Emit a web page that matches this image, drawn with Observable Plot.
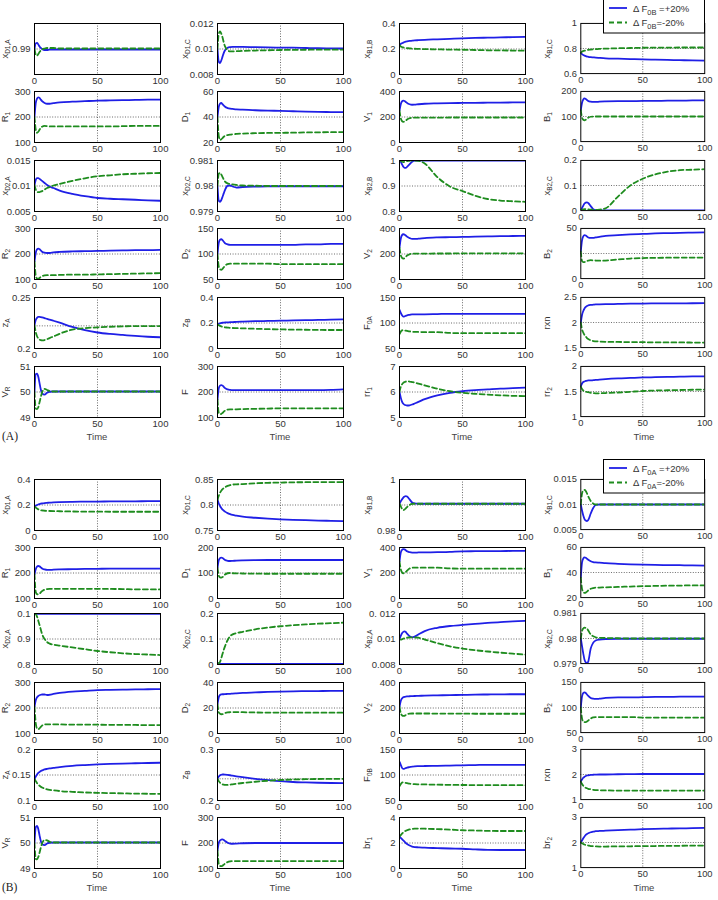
<!DOCTYPE html>
<html><head><meta charset="utf-8">
<script src="https://cdn.jsdelivr.net/npm/d3@7"></script>
<script src="https://cdn.jsdelivr.net/npm/@observablehq/plot@0.6"></script>
<style>
body{margin:0;background:#fff;}
#wrap{position:relative;width:718px;height:900px;overflow:hidden;font-family:"Liberation Sans",Arial,sans-serif;}
.pnl{position:absolute;}
.ylab{position:absolute;transform:translate(-50%,-50%) rotate(-90deg);font-size:9.5px;color:#333;white-space:nowrap;line-height:8px;}
.ylab sub{font-size:6.5px;vertical-align:-2px;line-height:0;}
.tlab{position:absolute;transform:translate(-50%,-50%);font-size:9.5px;color:#444;}
.plab{position:absolute;transform:translate(0,-50%);font-family:"Liberation Serif","Times New Roman",serif;font-size:11.5px;color:#222;}
.leg{position:absolute;z-index:5;}
</style>
</head><body><div id="wrap"></div>
<script>
const T = [0,1,2,3,4,5,6,8,10,12,15,20,30,40,50,60,70,80,90,100];
const xTicks = [0,50,100];

// ---- Group A : ΔF0B = +20% (up) / -20% (dn)
const A_xD1A_up=[0.9900,0.9911,0.9912,0.9909,0.9905,0.9902,0.9900,0.9898,0.9898,0.9899,0.9899,0.9899,0.9899,0.9899,0.9899,0.9899,0.9899,0.9899,0.9899,0.9899];
const A_xD1A_dn=[0.9900,0.9889,0.9887,0.9890,0.9894,0.9897,0.9899,0.9901,0.9902,0.9902,0.9902,0.9901,0.9901,0.9901,0.9901,0.9901,0.9901,0.9901,0.9901,0.9901];
const A_xD1C_up=[0.0100,0.0090,0.0089,0.0091,0.0094,0.0097,0.0099,0.0101,0.01015,0.01017,0.01016,0.01017,0.01014,0.01012,0.01011,0.0101,0.01008,0.01006,0.01005,0.01004];
const A_xD1C_dn=[0.0100,0.0112,0.01138,0.0112,0.0109,0.0105,0.0102,0.0099,0.00982,0.00982,0.00983,0.00985,0.00988,0.0099,0.00992,0.00993,0.00994,0.00995,0.00995,0.00995];
const A_xB1B_up=[0.23,0.24,0.245,0.25,0.255,0.258,0.26,0.263,0.265,0.267,0.269,0.272,0.276,0.28,0.284,0.287,0.289,0.291,0.293,0.295];
const A_xB1B_dn=[0.23,0.22,0.215,0.212,0.21,0.208,0.207,0.205,0.203,0.202,0.201,0.199,0.197,0.195,0.194,0.192,0.19,0.189,0.188,0.187];
const A_xB1C_up=[0.765,0.755,0.748,0.743,0.739,0.736,0.734,0.731,0.729,0.727,0.725,0.722,0.719,0.716,0.713,0.711,0.709,0.707,0.705,0.703];
const A_xB1C_dn=[0.765,0.775,0.78,0.783,0.785,0.787,0.789,0.791,0.793,0.795,0.797,0.799,0.802,0.804,0.806,0.807,0.807,0.808,0.808,0.808];
const A_R1_up=[200,255,272,277,275,268,262,255,252,252,254,257,260,262,264,265,266,267,268,268];
const A_R1_dn=[200,150,138,142,150,157,162,165,164,163,163,163,163,163,163,163,164,165,165,165];
const A_D1_up=[40,48,50.5,51,50,49,48,47,46.5,46.3,46,45.8,45.3,45,44.8,44.5,44.2,44,43.9,43.8];
const A_D1_dn=[40,25,22,22.5,23.5,24.5,25.2,25.8,26.2,26.5,26.7,27,27.3,27.5,27.6,27.7,27.9,28,28.1,28.2];
const A_V1_up=[250,300,322,328,325,318,310,300,296,297,300,304,307,309,310,311,312,313,314,315];
const A_V1_dn=[250,190,168,162,165,172,180,190,194,195,195,195,195,196,196,196,196,196,196,196];
const A_B1_up=[125,155,168,172,170,166,162,159,158,158,159,160,161,161,162,162,163,163,164,164];
const A_B1_dn=[125,95,87,85,87,91,95,99,100,100,100,100,100,100,100,100,100,100,100,100];
const A_xD2A_up=[0.0102,0.0112,0.01155,0.01155,0.0114,0.0112,0.0110,0.0106,0.0102,0.0099,0.0096,0.0091,0.00845,0.0080,0.00765,0.0075,0.0074,0.0073,0.0072,0.0071];
const A_xD2A_dn=[0.0102,0.0093,0.0089,0.00878,0.0088,0.0089,0.0090,0.0093,0.0096,0.0098,0.0101,0.0104,0.0110,0.0115,0.0119,0.0121,0.0123,0.0124,0.0125,0.01255];
const A_xD2C_up=[0.98,0.97942,0.97938,0.97945,0.97958,0.97972,0.97985,0.98001,0.98002,0.97998,0.97994,0.97996,0.97998,0.97999,0.97999,0.97999,0.97999,0.97999,0.97999,0.97999];
const A_xD2C_dn=[0.98,0.98048,0.98052,0.98045,0.98035,0.98025,0.98017,0.9801,0.98008,0.98006,0.98004,0.98002,0.98001,0.98,0.98,0.98,0.98,0.98,0.98,0.98];
const A_xB2B_up=[1,0.995,0.985,0.976,0.971,0.971,0.975,0.985,0.995,1,1,1,1,1,1,1,1,1,1,1];
const A_xB2B_dn=[1,0.998,0.995,0.994,0.995,0.997,0.998,0.999,1,1,0.999,0.988,0.935,0.898,0.88,0.862,0.849,0.843,0.84,0.838];
const A_xB2C_up=[0,0.01,0.02,0.028,0.032,0.033,0.03,0.018,0.006,0.002,0.001,0.001,0.001,0.001,0.001,0.001,0.001,0.001,0.001,0.001];
const A_xB2C_dn=[0,0.003,0.005,0.006,0.006,0.006,0.005,0.004,0.003,0.003,0.004,0.009,0.056,0.1,0.127,0.144,0.155,0.161,0.163,0.165];
const A_R2_up=[170,205,218,221,219,214,209,205,204,204,206,208,210,211,212,213,214,215,215,216];
const A_R2_dn=[170,115,104,103,106,110,113,116,117,117,117,118,119,119,120,121,122,123,124,125];
const A_D2_up=[100,122,128,129,127,124,121,119,118,118,118,118,118,118,118,118,119,119,120,120];
const A_D2_dn=[100,75,70,69,71,74,77,80,81,81,81,81,81,81,80,80,80,80,80,80];
const A_V2_up=[250,320,348,355,352,345,336,325,318,318,320,325,330,332,334,336,338,340,341,342];
const A_V2_dn=[250,190,170,164,168,178,188,198,202,203,203,203,204,204,205,205,205,205,205,205];
const A_B2_up=[27,38,42,43.3,43,42,41,40.5,40.5,41,41.5,42.5,43.3,44,44.5,45,45.3,45.6,45.8,46];
const A_B2_dn=[27,17.5,16.5,16.5,17,17.5,18,18.3,18.2,18,17.8,18,19,20,20.5,20.7,20.8,21,21,21];
const A_zA_up=[0.223,0.228,0.23,0.231,0.231,0.2308,0.2305,0.2298,0.229,0.2283,0.2272,0.2253,0.2212,0.218,0.2157,0.2143,0.2133,0.2123,0.2115,0.211];
const A_zA_dn=[0.223,0.216,0.212,0.21,0.2088,0.2082,0.208,0.2083,0.2092,0.2102,0.2118,0.2145,0.2185,0.22,0.2207,0.2213,0.2217,0.222,0.222,0.222];
const A_zB_up=[0.19,0.195,0.198,0.2,0.202,0.203,0.204,0.205,0.206,0.207,0.209,0.211,0.214,0.216,0.218,0.22,0.222,0.224,0.226,0.228];
const A_zB_dn=[0.19,0.182,0.177,0.173,0.17,0.168,0.166,0.164,0.162,0.161,0.16,0.158,0.155,0.152,0.15,0.148,0.147,0.146,0.145,0.145];
const A_F0A_up=[126,120,115,112.5,113,114,115,116,117,117,117,117,117.5,118,118,118,118,118,118,118];
const A_F0A_dn=[78,83,85.5,86,85.5,85,84.5,83.5,83,82.5,82.5,82,82,80.5,80,80,80,80,80,80];
const A_rxn_up=[2,2.15,2.23,2.28,2.31,2.33,2.34,2.35,2.355,2.36,2.362,2.365,2.37,2.375,2.378,2.38,2.382,2.383,2.384,2.385];
const A_rxn_dn=[2,1.86,1.8,1.75,1.72,1.69,1.67,1.645,1.63,1.625,1.62,1.615,1.612,1.61,1.607,1.605,1.603,1.602,1.601,1.6];
const A_VR_up=[50,50.7,50.72,50.6,50.35,50.1,49.95,49.9,49.97,50.01,50.02,50.02,50.02,50.02,50.02,50.02,50.02,50.02,50.02,50.02];
const A_VR_dn=[50,49.35,49.33,49.4,49.6,49.8,49.98,50.12,50.08,50.04,50.02,50.02,50.02,50.02,50.02,50.02,50.02,50.02,50.02,50.02];
const A_F_up=[170,215,225,227,225,220,215,210,208,207,207,207,207,207,207,207,207,207,208,210];
const A_F_dn=[170,118,113,114,118,123,127,131,132,132,132,133,134,135,136,136,136,136,136,136];
const A_rr1_up=[6,5.78,5.62,5.54,5.5,5.48,5.47,5.48,5.51,5.55,5.61,5.72,5.87,5.97,6.03,6.07,6.1,6.13,6.15,6.17];
const A_rr1_dn=[6,6.2,6.3,6.36,6.39,6.41,6.42,6.41,6.39,6.37,6.33,6.26,6.13,6.03,5.97,5.93,5.9,5.87,5.85,5.84];
const A_rr2_up=[1.6,1.66,1.69,1.7,1.71,1.715,1.72,1.72,1.725,1.73,1.735,1.745,1.76,1.77,1.78,1.785,1.79,1.795,1.8,1.8];
const A_rr2_dn=[1.6,1.55,1.52,1.505,1.495,1.49,1.485,1.475,1.47,1.465,1.465,1.47,1.48,1.495,1.51,1.52,1.525,1.53,1.535,1.54];

// ---- Group B : ΔF0A = +20% (up) / -20% (dn)
const B_xD1A_up=[0.19,0.195,0.2,0.204,0.207,0.21,0.212,0.215,0.217,0.219,0.221,0.223,0.225,0.226,0.227,0.228,0.229,0.229,0.23,0.23];
const B_xD1A_dn=[0.19,0.18,0.172,0.166,0.162,0.159,0.157,0.155,0.154,0.153,0.152,0.151,0.149,0.148,0.148,0.147,0.147,0.147,0.147,0.147];
const B_xD1C_up=[0.81,0.803,0.798,0.794,0.791,0.789,0.787,0.784,0.782,0.7805,0.779,0.777,0.775,0.7733,0.772,0.771,0.7702,0.7695,0.769,0.7685];
const B_xD1C_dn=[0.81,0.818,0.824,0.828,0.831,0.833,0.835,0.8375,0.839,0.84,0.8405,0.841,0.8425,0.8435,0.844,0.8445,0.8447,0.845,0.845,0.845];
const B_xB1B_up=[0.9905,0.9915,0.9922,0.9929,0.9933,0.9935,0.9933,0.9922,0.991,0.9906,0.9905,0.9905,0.9905,0.9905,0.9905,0.9905,0.9905,0.9905,0.9905,0.9905];
const B_xB1B_dn=[0.9905,0.9895,0.9885,0.988,0.9882,0.9887,0.9892,0.99,0.9904,0.9905,0.9905,0.9905,0.9905,0.9905,0.9905,0.9905,0.9905,0.9905,0.9905,0.9905];
const B_xB1C_up=[0.01,0.0088,0.0078,0.0071,0.0068,0.0067,0.0069,0.0082,0.0093,0.0099,0.01,0.01,0.01,0.01,0.01,0.01,0.01,0.01,0.01,0.01];
const B_xB1C_dn=[0.01,0.0122,0.0128,0.0129,0.0127,0.0122,0.0116,0.0107,0.0102,0.01,0.01,0.01,0.01,0.01,0.01,0.01,0.01,0.01,0.01,0.01];
const B_R1_up=[195,215,225,227.5,226,222,218,214,212,212,213,214,215,216,216.5,217,217,217,217,217];
const B_R1_dn=[195,125,117,116,119,124,129,135,137,138,138,138,138,138,138,137.5,137,136,136,135.5];
const B_D1_up=[120,150,158,160.5,159,155,151,148,147,147.5,148.5,149.5,150.5,151,151,151,151,151,151,151];
const B_D1_dn=[120,90,83,82,84,89,94,99,100,99,98.5,98,97.5,97,97,97,97,97,97,97];
const B_V1_up=[290,360,382,387,385,378,370,363,360,360,361,362,363,366,370,371,372,372,373,373];
const B_V1_dn=[290,230,205,198,200,208,218,235,241,242,242,242,242,236,234,234,234,234,234,234];
const B_B1_up=[36,48,51.2,52,51.8,51,50.2,49,48.3,48,47.8,47.4,46.9,46.5,46.2,46,45.9,45.8,45.7,45.5];
const B_B1_dn=[36,27,24.5,23.8,24,24.8,25.7,27,27.6,27.9,28,28.2,28.5,28.8,29.1,29.3,29.5,29.6,29.7,29.7];
const B_xD2A_up=[0.999,0.999,0.999,0.999,0.999,0.999,0.999,0.999,0.999,0.999,0.999,0.999,0.999,0.999,0.999,0.999,0.999,0.999,0.999,0.999];
const B_xD2A_dn=[1,0.997,0.988,0.972,0.955,0.937,0.92,0.9,0.888,0.882,0.878,0.874,0.867,0.86,0.853,0.848,0.844,0.841,0.839,0.837];
const B_xD2C_up=[0.005,0.004,0.003,0.002,0.002,0.002,0.002,0.002,0.002,0.002,0.002,0.002,0.002,0.002,0.002,0.002,0.002,0.002,0.002,0.002];
const B_xD2C_dn=[0.005,0.005,0.01,0.025,0.042,0.058,0.072,0.095,0.111,0.118,0.123,0.128,0.138,0.145,0.15,0.154,0.157,0.16,0.162,0.164];
const B_xB2A_up=[0.01,0.01025,0.01045,0.01056,0.0106,0.01055,0.01042,0.01022,0.01013,0.01018,0.01035,0.01062,0.01088,0.01102,0.0111,0.01118,0.01126,0.01133,0.01138,0.01143];
const B_xB2A_dn=[0.01,0.00995,0.00998,0.01003,0.01006,0.01008,0.0101,0.01012,0.01013,0.01012,0.0101,0.00996,0.00968,0.00942,0.00925,0.00912,0.00902,0.00893,0.00885,0.00878];
const B_xB2C_up=[0.98,0.9797,0.9794,0.97915,0.97905,0.97902,0.97908,0.9796,0.97983,0.97992,0.97996,0.97998,0.97999,0.97999,0.97999,0.97999,0.97999,0.97999,0.97999,0.97999];
const B_xB2C_dn=[0.98,0.9803,0.9804,0.98043,0.98042,0.9804,0.98032,0.98016,0.98009,0.98005,0.98003,0.98002,0.98001,0.98,0.98,0.98,0.98,0.98,0.98,0.98];
const B_R2_up=[205,230,242,247,250,252,253,253,251,252,255,259,264,267,270,271,272,273,273.5,274];
const B_R2_dn=[205,140,120,117,120,126,131,135,136,136,136,135.5,135,135,134.5,134,134,133.5,133,133];
const B_D2_up=[23,28.5,30.2,30.7,30.8,30.8,30.9,31,31.1,31.3,31.5,31.8,32.2,32.6,32.9,33.1,33.2,33.3,33.4,33.4];
const B_D2_dn=[23,16.5,15.5,15.1,15.2,15.6,16,16.5,16.7,16.8,16.8,16.7,16.5,16.4,16.4,16.3,16.3,16.3,16.3,16.3];
const B_V2_up=[210,255,275,284,288,290,291,292,293,294,295,297,299,301,303,305,306,307,308,308];
const B_V2_dn=[210,160,143,138,139,145,151,156,157,157,157,157,156,156,156,155,155,155,155,155];
const B_B2_up=[100,122,129,130,129,126,123,119,117.5,117,117.5,119,120,120,120.5,121,121,121.5,121.5,121.7];
const B_B2_dn=[100,78,72,71,71,72,74,78,80.5,81,81,81,81,81,80,80,80,80,80,79.6];
const B_zA_up=[0.142,0.147,0.151,0.154,0.156,0.158,0.159,0.161,0.162,0.1628,0.1638,0.1655,0.168,0.1695,0.1707,0.1717,0.1725,0.173,0.1735,0.174];
const B_zA_dn=[0.142,0.138,0.134,0.131,0.129,0.127,0.1255,0.1235,0.122,0.121,0.12,0.1185,0.117,0.1158,0.115,0.1145,0.114,0.1135,0.1132,0.113];
const B_zB_up=[0.243,0.247,0.2495,0.2505,0.251,0.251,0.2508,0.2502,0.2495,0.2487,0.2475,0.2458,0.2425,0.24,0.2378,0.2363,0.2355,0.2348,0.2343,0.234];
const B_zB_dn=[0.243,0.238,0.235,0.233,0.2318,0.231,0.2306,0.2305,0.231,0.2318,0.2328,0.2343,0.2368,0.2388,0.2402,0.2412,0.2418,0.2422,0.2424,0.2425];
const B_F0B_up=[126,120,114,112,112.5,113.5,114.5,115.5,116.5,117,117.3,117.6,118,118.5,119,119.5,120,120,120,120];
const B_F0B_dn=[78,82,85,85.5,85,84.5,84,83,82.5,82,81.7,81.5,81,80.7,80.4,80.3,80.2,80.1,80,80];
const B_rxn_up=[1.72,1.8,1.87,1.91,1.94,1.96,1.97,1.985,1.99,1.995,2,2,2.01,2.015,2.02,2.02,2.02,2.02,2.02,2.02];
const B_rxn_dn=[1.72,1.62,1.55,1.5,1.47,1.45,1.43,1.41,1.39,1.38,1.37,1.365,1.36,1.36,1.36,1.36,1.36,1.36,1.36,1.36];
const B_VR_up=[50,50.62,50.67,50.55,50.3,50.08,49.95,49.92,49.98,50.01,50.02,50.02,50.02,50.02,50.02,50.02,50.02,50.02,50.02,50.02];
const B_VR_dn=[50,49.38,49.36,49.45,49.62,49.82,49.98,50.12,50.1,50.05,50.02,50.02,50.02,50.02,50.02,50.02,50.02,50.02,50.02,50.02];
const B_F_up=[170,200,210,213,214,212,208,201,198,197,197.5,199,200,200,200,200,200,200,200,200];
const B_F_dn=[170,118,110,109,111,115,119,125,128,129,129,129,129,129,129,129,129,129,129,129];
const B_br1_up=[2.5,2.4,2.3,2.2,2.1,2,1.92,1.8,1.72,1.68,1.66,1.63,1.6,1.57,1.55,1.5,1.46,1.45,1.45,1.45];
const B_br1_dn=[2.5,2.62,2.73,2.83,2.9,2.96,3,3.07,3.1,3.12,3.13,3.12,3.09,3.05,3,2.98,2.95,2.94,2.94,2.94];
const B_br2_up=[2,2.08,2.17,2.24,2.3,2.34,2.37,2.41,2.43,2.45,2.46,2.47,2.49,2.51,2.53,2.545,2.555,2.565,2.57,2.58];
const B_br2_dn=[2,1.97,1.94,1.92,1.9,1.89,1.88,1.86,1.85,1.845,1.84,1.84,1.845,1.85,1.855,1.86,1.865,1.87,1.875,1.88];

// panel table: [label, domain, ticks, tick labels, grid y, up, dn]
const panelsA = [
 ["x<sub>D1,A</sub>",[0.985,0.995],[0.99],["0.99"],0.99,A_xD1A_up,A_xD1A_dn],
 ["x<sub>D1,C</sub>",[0.008,0.012],[0.008,0.01,0.012],["0.008","0.01","0.012"],0.01,A_xD1C_up,A_xD1C_dn],
 ["x<sub>B1,B</sub>",[0,0.4],[0,0.2,0.4],["0","0.2","0.4"],0.2,A_xB1B_up,A_xB1B_dn],
 ["x<sub>B1,C</sub>",[0.6,1],[0.6,0.8,1],["0.6","0.8","1"],0.8,A_xB1C_up,A_xB1C_dn],
 ["R<sub>1</sub>",[100,300],[100,200,300],["100","200","300"],200,A_R1_up,A_R1_dn],
 ["D<sub>1</sub>",[20,60],[20,40,60],["20","40","60"],40,A_D1_up,A_D1_dn],
 ["V<sub>1</sub>",[0,400],[0,200,400],["0","200","400"],200,A_V1_up,A_V1_dn],
 ["B<sub>1</sub>",[0,200],[0,100,200],["0","100","200"],100,A_B1_up,A_B1_dn],
 ["x<sub>D2,A</sub>",[0.005,0.015],[0.005,0.01,0.015],["0.005","0.01","0.015"],0.01,A_xD2A_up,A_xD2A_dn],
 ["x<sub>D2,C</sub>",[0.979,0.981],[0.979,0.98,0.981],["0.979","0.98","0.981"],0.98,A_xD2C_up,A_xD2C_dn],
 ["x<sub>B2,B</sub>",[0.8,1],[0.8,0.9,1],["0.8","0.9","1"],0.9,A_xB2B_up,A_xB2B_dn],
 ["x<sub>B2,C</sub>",[0,0.2],[0,0.1,0.2],["0","0.1","0.2"],0.1,A_xB2C_up,A_xB2C_dn],
 ["R<sub>2</sub>",[100,300],[100,200,300],["100","200","300"],200,A_R2_up,A_R2_dn],
 ["D<sub>2</sub>",[50,150],[50,100,150],["50","100","150"],100,A_D2_up,A_D2_dn],
 ["V<sub>2</sub>",[0,400],[0,200,400],["0","200","400"],200,A_V2_up,A_V2_dn],
 ["B<sub>2</sub>",[0,50],[0,50],["0","50"],25,A_B2_up,A_B2_dn],
 ["z<sub>A</sub>",[0.2,0.25],[0.2,0.25],["0.2","0.25"],0.2222,A_zA_up,A_zA_dn],
 ["z<sub>B</sub>",[0,0.4],[0,0.2,0.4],["0","0.2","0.4"],0.2,A_zB_up,A_zB_dn],
 ["F<sub>0A</sub>",[50,150],[50,100,150],["50","100","150"],100,A_F0A_up,A_F0A_dn],
 ["rxn",[1.5,2.5],[1.5,2,2.5],["1.5","2","2.5"],2,A_rxn_up,A_rxn_dn],
 ["V<sub>R</sub>",[49,51],[49,50,51],["49","50","51"],50,A_VR_up,A_VR_dn],
 ["F",[100,300],[100,200,300],["100","200","300"],200,A_F_up,A_F_dn],
 ["rr<sub>1</sub>",[5,7],[5,6,7],["5","6","7"],6,A_rr1_up,A_rr1_dn],
 ["rr<sub>2</sub>",[1,2],[1,1.5,2],["1","1.5","2"],1.5,A_rr2_up,A_rr2_dn]
];
const panelsB = [
 ["x<sub>D1,A</sub>",[0,0.4],[0,0.2,0.4],["0","0.2","0.4"],0.2,B_xD1A_up,B_xD1A_dn],
 ["x<sub>D1,C</sub>",[0.75,0.85],[0.75,0.8,0.85],["0.75","0.8","0.85"],0.8,B_xD1C_up,B_xD1C_dn],
 ["x<sub>B1,B</sub>",[0.98,1],[0.98,1],["0.98","1"],0.99,B_xB1B_up,B_xB1B_dn],
 ["x<sub>B1,C</sub>",[0.005,0.015],[0.005,0.01,0.015],["0.005","0.01","0.015"],0.01,B_xB1C_up,B_xB1C_dn],
 ["R<sub>1</sub>",[100,300],[100,200,300],["100","200","300"],200,B_R1_up,B_R1_dn],
 ["D<sub>1</sub>",[0,200],[0,100,200],["0","100","200"],100,B_D1_up,B_D1_dn],
 ["V<sub>1</sub>",[0,400],[0,200,400],["0","200","400"],200,B_V1_up,B_V1_dn],
 ["B<sub>1</sub>",[20,60],[20,40,60],["20","40","60"],40,B_B1_up,B_B1_dn],
 ["x<sub>D2,A</sub>",[0.8,1],[0.8,0.9,1],["0.8","0.9","0.1"],0.9,B_xD2A_up,B_xD2A_dn],
 ["x<sub>D2,C</sub>",[0,0.2],[0,0.1,0.2],["0","0.1","0.2"],0.1,B_xD2C_up,B_xD2C_dn],
 ["x<sub>B2,A</sub>",[0.008,0.012],[0.008,0.01,0.012],["0.008","0.01","0. 012"],0.01,B_xB2A_up,B_xB2A_dn],
 ["x<sub>B2,C</sub>",[0.979,0.981],[0.979,0.98,0.981],["0.979","0.98","0.981"],0.98,B_xB2C_up,B_xB2C_dn],
 ["R<sub>2</sub>",[100,300],[100,200,300],["100","200","300"],200,B_R2_up,B_R2_dn],
 ["D<sub>2</sub>",[0,40],[0,20,40],["0","20","40"],20,B_D2_up,B_D2_dn],
 ["V<sub>2</sub>",[0,400],[0,200,400],["0","200","400"],200,B_V2_up,B_V2_dn],
 ["B<sub>2</sub>",[50,150],[50,100,150],["50","100","150"],100,B_B2_up,B_B2_dn],
 ["z<sub>A</sub>",[0.1,0.2],[0.1,0.15,0.2],["0.1","0.15","0.2"],0.15,B_zA_up,B_zA_dn],
 ["z<sub>B</sub>",[0.2,0.3],[0.2,0.3],["0.2","0.3"],0.2425,B_zB_up,B_zB_dn],
 ["F<sub>0B</sub>",[50,150],[50,100,150],["50","100","150"],100,B_F0B_up,B_F0B_dn],
 ["rxn",[1,3],[1,2,3],["1","2","3"],2,B_rxn_up,B_rxn_dn],
 ["V<sub>R</sub>",[49,51],[49,50,51],["49","50","51"],50,B_VR_up,B_VR_dn],
 ["F",[100,300],[100,200,300],["100","200","300"],200,B_F_up,B_F_dn],
 ["br<sub>1</sub>",[0,4],[0,2,4],["0","2","4"],2,B_br1_up,B_br1_dn],
 ["br<sub>2</sub>",[1,3],[1,2,3],["1","2","3"],2,B_br2_up,B_br2_dn]
];

const wrap = document.getElementById("wrap");
const colLeft = [34, 217, 399, 581];
const ylabX = [5, 185, 367, 547];
const FW = 126, FH = 51;
const rowsA = [23, 91, 160, 228, 297, 366];
const rowsB = [479, 547, 613, 682, 749, 817];
const BLUE = "#1f1fe6", GREEN = "#1e8c1e";

function drawPanel(p, left, top, col) {
  const [lab, dom, ticks, labs, grid, up, dn] = p;
  const data = T.map((t, i) => ({t, up: up[i], dn: dn[i]}));
  const fmt = new Map(ticks.map((v, i) => [v, labs[i]]));
  const ml = 42, mr = 14, mt = 4, mb = 16;
  const svg = Plot.plot({
    width: FW + ml + mr, height: FH + mt + mb,
    marginLeft: ml, marginRight: mr, marginTop: mt, marginBottom: mb,
    style: {fontFamily: '"Liberation Sans", Arial, sans-serif', fontSize: "9.5px", color: "#333", background: "transparent", overflow: "visible"},
    x: {domain: [0, 100], ticks: xTicks, tickSize: 0, tickPadding: 3, label: null},
    y: {domain: dom, ticks: ticks, tickFormat: d => fmt.get(d), tickSize: 0, tickPadding: 4, label: null},
    marks: [
      Plot.ruleX([50], {stroke: "#444", strokeDasharray: "1,1.6", strokeWidth: 0.8}),
      Plot.ruleY([grid], {stroke: "#444", strokeDasharray: "1,1.6", strokeWidth: 0.8}),
      Plot.line(data, {x: "t", y: "up", stroke: BLUE, strokeWidth: 1.8, curve: "monotone-x", clip: true}),
      Plot.line(data, {x: "t", y: "dn", stroke: GREEN, strokeWidth: 1.8, strokeDasharray: "5,3", curve: "monotone-x", clip: true}),
      Plot.frame({stroke: "#000", strokeWidth: 1})
    ]
  });
  const d = document.createElement("div");
  d.className = "pnl";
  d.style.left = (left - ml) + "px";
  d.style.top = (top - mt) + "px";
  d.appendChild(svg);
  wrap.appendChild(d);
  const yl = document.createElement("div");
  yl.className = "ylab";
  yl.innerHTML = lab;
  yl.style.left = ylabX[col] + "px";
  yl.style.top = (top + FH / 2) + "px";
  wrap.appendChild(yl);
}

function drawGroup(panels, rows, tag) {
  panels.forEach((p, k) => {
    const r = Math.floor(k / 4), c = k % 4;
    drawPanel(p, colLeft[c], rows[r], c);
  });
  const ty = rows[5] + FH + 19;
  colLeft.forEach(x => {
    const t = document.createElement("div");
    t.className = "tlab"; t.textContent = "Time";
    t.style.left = (x + FW / 2) + "px"; t.style.top = ty + "px";
    wrap.appendChild(t);
  });
  const pl = document.createElement("div");
  pl.className = "plab"; pl.textContent = tag;
  pl.style.left = "2px"; pl.style.top = ty + "px";
  wrap.appendChild(pl);
}

drawGroup(panelsA, rowsA, "(A)");
drawGroup(panelsB, rowsB, "(B)");

function legend(top, sub) {
  const ns = "http://www.w3.org/2000/svg";
  const d = document.createElement("div");
  d.className = "leg";
  d.style.left = "603px"; d.style.top = top + "px";
  d.innerHTML = `<svg width="103" height="35" xmlns="${ns}" style="font-family:'Liberation Sans',Arial,sans-serif;font-size:9.5px;fill:#333">
    <rect x="0.5" y="0.5" width="101" height="33.5" fill="#fff" stroke="#000" stroke-width="1"/>
    <line x1="6" x2="24" y1="9" y2="9" stroke="${BLUE}" stroke-width="1.8"/>
    <line x1="6" x2="24" y1="23.5" y2="23.5" stroke="${GREEN}" stroke-width="1.8" stroke-dasharray="5,3"/>
    <text x="30" y="12.5">Δ F<tspan dy="3" font-size="7.5px">${sub}</tspan><tspan dy="-3"> =+20%</tspan></text>
    <text x="30" y="27">Δ F<tspan dy="3" font-size="7.5px">${sub}</tspan><tspan dy="-3">=-20%</tspan></text>
  </svg>`;
  wrap.appendChild(d);
}
legend(-1, "0B");
legend(459, "0A");
</script>
</body></html>
